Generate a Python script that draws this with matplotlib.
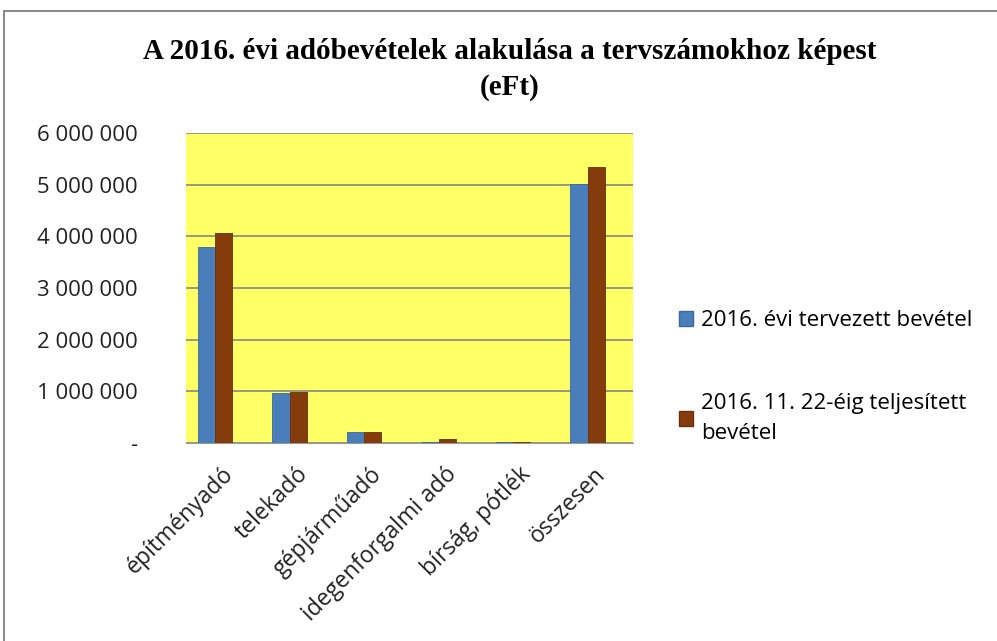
import numpy as np
import matplotlib.pyplot as plt
import matplotlib.transforms as mtransforms
from matplotlib.patches import Rectangle
from matplotlib.ticker import FuncFormatter

# data (eFt)
categories = ['építményadó', 'telekadó', 'gépjárműadó', 'idegenforgalmi adó',
              'bírság, pótlék', 'összesen']
planned = [3800000, 960000, 220000, 25000, 25000, 5020000]
actual = [4070000, 990000, 220000, 70000, 20000, 5350000]
series_names = ['2016. évi tervezett bevétel', '2016. 11. 22-éig teljesített\nbevétel']
yticks = [0, 1000000, 2000000, 3000000, 4000000, 5000000, 6000000]

blue = '#4a7ebb'
brown = '#843c0c'
txt_font = ['Open Sans', 'DejaVu Sans']

fig = plt.figure(figsize=(9.97, 6.41), dpi=100)
fig.patches.append(Rectangle((4/997, -0.01), 1.0, 1 - 11/641 + 0.01, transform=fig.transFigure,
                             fill=False, edgecolor='#8c8c8c', linewidth=1.5))

ax = fig.add_axes([186/997, 1 - 443/641, (633 - 186)/997, (443 - 133)/641])
ax.set_facecolor('#ffff66')

x = np.arange(len(categories))
w = 0.23
ax.bar(x - w/2, planned, w, color=blue, edgecolor='#3d6797', linewidth=0.6, zorder=3)
ax.bar(x + w/2, actual, w, color=brown, edgecolor='#6b300a', linewidth=0.6, zorder=3)

ax.set_xlim(-0.39, 5.61)
ax.set_ylim(0, 6000000)
ax.set_yticks(yticks)
ax.yaxis.set_major_formatter(FuncFormatter(
    lambda v, p: '-' if v == 0 else f'{int(v):,}'.replace(',', ' ')))
ax.grid(axis='y', color='#888888', linewidth=1.2, zorder=1)
for s in ['top', 'right', 'left']:
    ax.spines[s].set_visible(False)
ax.spines['bottom'].set_color('#999999')
ax.tick_params(axis='both', length=0, labelsize=16, colors='#222222')
ax.tick_params(axis='y', pad=35)
for lab in ax.get_yticklabels():
    lab.set_family(txt_font)

ax.set_xticks(x)
ax.set_xticklabels(categories, rotation=45, ha='right', va='top',
                   rotation_mode='anchor', family=txt_font, fontsize=16.5)
ax.tick_params(axis='x', pad=14)
shift = mtransforms.ScaledTranslation(6/100, 0, fig.dpi_scale_trans)
for lab in ax.get_xticklabels():
    lab.set_transform(lab.get_transform() + shift)

fig.text(0.5115, 1 - 69.5/641, 'A 2016. évi adóbevételek alakulása a tervszámokhoz képest\n(eFt)',
         ha='center', va='center', fontsize=21, fontweight='bold',
         family='Liberation Serif', linespacing=1.45)

handles = [Rectangle((0, 0), 1, 1, facecolor=blue, edgecolor='#3d6797'),
           Rectangle((0, 0), 1, 1, facecolor=brown, edgecolor='#6b300a')]
leg = fig.legend(handles, series_names, loc='upper left', bbox_to_anchor=(659/997, 1 - 290/641),
                 frameon=False, prop={'family': txt_font, 'size': 16},
                 handlelength=0.65, handleheight=0.65, handletextpad=0.35, labelspacing=2.8)
for t in leg.get_texts():
    t.set_linespacing(1.55)

fig.savefig('out.png', dpi=100)
